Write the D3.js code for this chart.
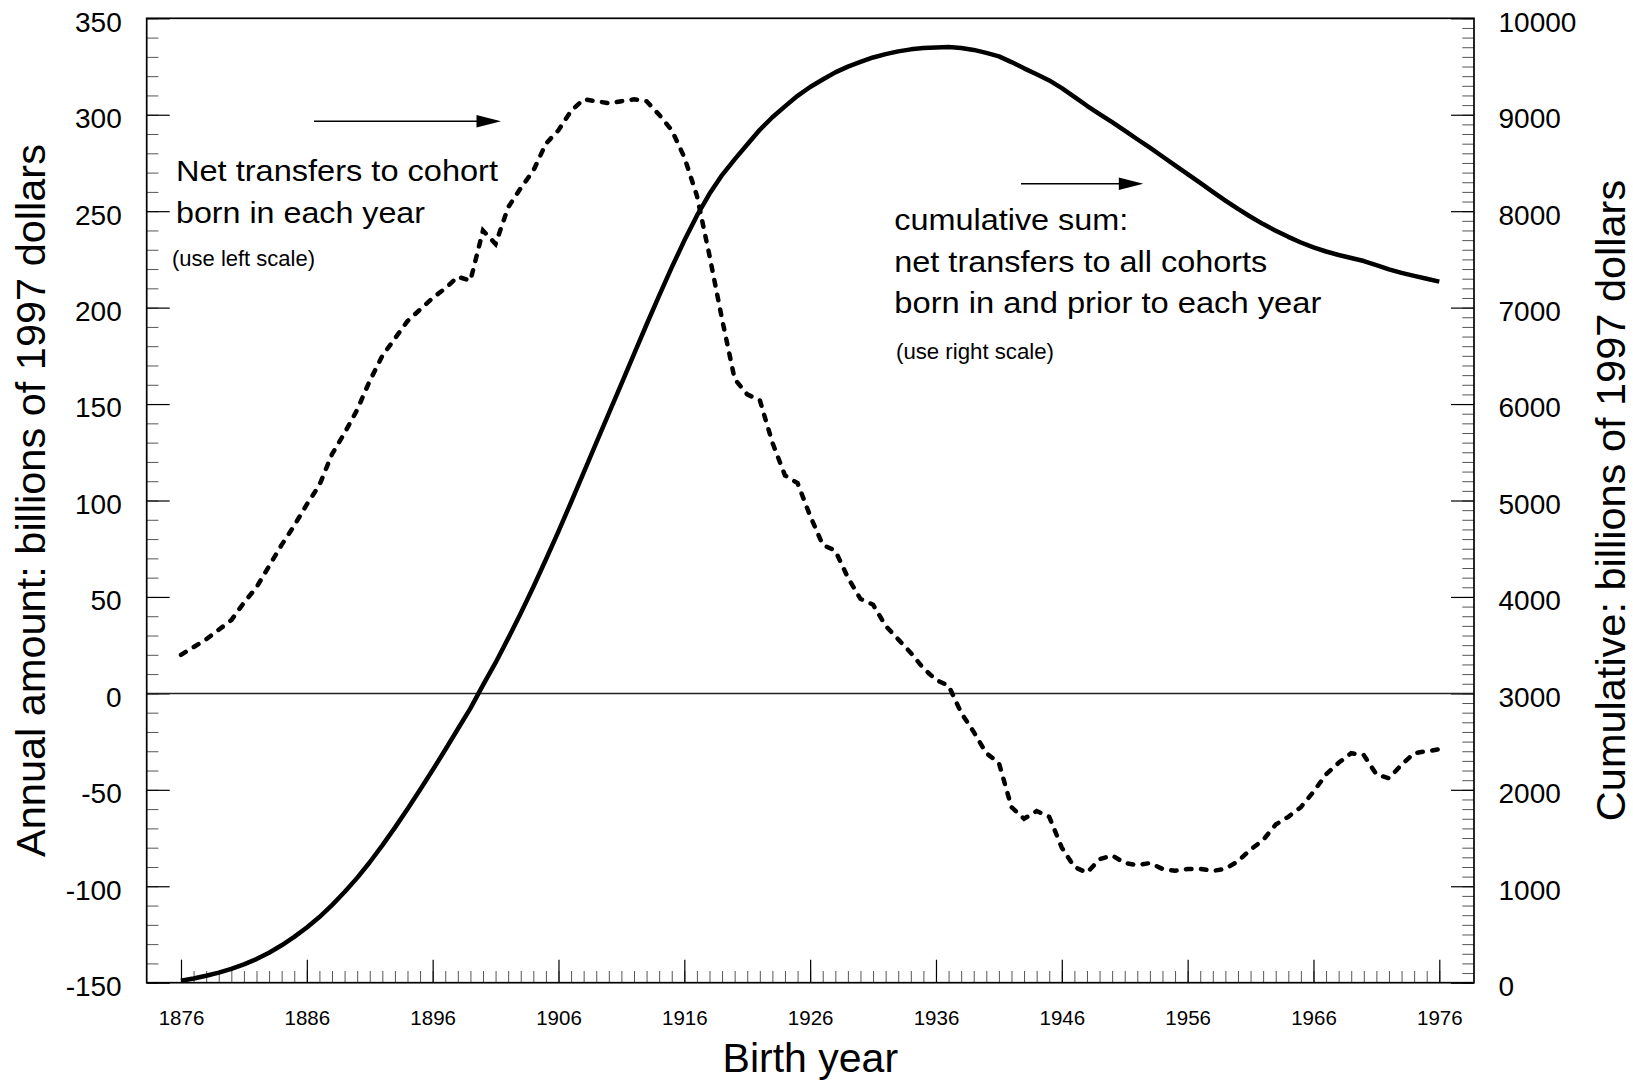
<!DOCTYPE html>
<html lang="en">
<head>
<meta charset="UTF-8">
<title>Net transfers by birth year</title>
<script src="https://cdnjs.cloudflare.com/ajax/libs/d3/7.8.4/d3.min.js"></script>
<style>
  body { margin: 0; background: #fff; }
  svg { display: block; font-family: "Liberation Sans", Arial, Helvetica, sans-serif; }
</style>
</head>
<body>
<div class="visHolder"></div>
<script>
  // one value per birth year, 1876 .. 1976
  const years = d3.range(1876, 1977);

  // annual net transfers to each cohort (left scale, billions of 1997 dollars)
  const annual = [
    20, 24, 28, 33, 38, 47, 55, 66, 77, 87,
    98, 108, 124, 135, 147, 162, 175, 184, 193, 199,
    205, 210, 216, 214, 240, 233, 252, 262, 271, 285,
    292, 302, 308, 307, 306, 307, 308, 307, 300, 292,
    278, 258, 227, 194, 163, 155, 152, 130, 113, 109,
    92, 77, 74, 60, 49, 46, 35, 28, 21, 13,
    7, 4, -10, -20, -31, -36, -59, -65, -61, -64,
    -80, -90, -93, -86, -84, -88, -89, -88, -91, -92,
    -91, -91, -92, -91, -87, -81, -76, -68, -64, -59,
    -51, -42, -36, -31, -32, -42, -44, -37, -31, -30,
    -29
  ];

  // cumulative transfers, all cohorts born in and before the year (right scale)
  const cumulative = [
    20, 44, 72, 105, 143, 190, 245, 311, 388, 475,
    573, 681, 805, 940, 1087, 1249, 1424, 1608, 1801, 2000,
    2205, 2415, 2631, 2845, 3085, 3318, 3570, 3832, 4103, 4388,
    4680, 4982, 5290, 5597, 5903, 6210, 6518, 6825, 7125, 7417,
    7695, 7953, 8180, 8374, 8537, 8692, 8844, 8974, 9087, 9196,
    9288, 9365, 9439, 9499, 9548, 9594, 9629, 9657, 9678, 9691,
    9698, 9702, 9692, 9672, 9641, 9605, 9546, 9481, 9420, 9356,
    9276, 9186, 9093, 9007, 8923, 8835, 8746, 8658, 8567, 8475,
    8384, 8293, 8201, 8110, 8023, 7942, 7866, 7798, 7734, 7675,
    7624, 7582, 7546, 7515, 7483, 7441, 7397, 7360, 7329, 7299,
    7270
  ];

  const xTicks = [1876, 1886, 1896, 1906, 1916, 1926, 1936, 1946, 1956, 1966, 1976];
  const leftTicks = [-150, -100, -50, 0, 50, 100, 150, 200, 250, 300, 350];
  const rightTicks = [0, 1000, 2000, 3000, 4000, 5000, 6000, 7000, 8000, 9000, 10000];
  const leftMinor = d3.range(-150, 351, 10);
  const rightMinor = d3.range(0, 10001, 100);

  const w = 1633;
  const h = 1081;
  const pLeft = 146.7, pRight = 1474, pTop = 18.3, pBottom = 982.7;

  const xScale = d3.scaleLinear().domain([1876, 1976]).range([181, 1439.3]);
  const yLeft = d3.scaleLinear().domain([-150, 350]).range([pBottom, pTop]);
  const yRight = d3.scaleLinear().domain([0, 10000]).range([pBottom, pTop]);

  // plain labels: hyphen minus, no thousands separator
  const plain = d => String(d);

  const svg = d3.select(".visHolder")
    .append("svg")
    .attr("width", w)
    .attr("height", h);

  // minor ticks first, then major ticks with labels
  const addAxis = (axis, tx, ty, size, cls) => {
    const g = svg.append("g")
      .attr("transform", "translate(" + tx + "," + ty + ")")
      .call(axis);
    g.attr("font-family", null).attr("font-size", size);
    g.select(".domain").remove();
    g.selectAll(".tick line").attr("stroke", cls === "minor" ? "#555" : "#000").attr("stroke-width", cls === "minor" ? 1 : 1.2);
    g.selectAll(".tick text").attr("fill", "#000");
    return g;
  };

  addAxis(d3.axisBottom(xScale).tickValues(years).tickSize(-11.7).tickFormat(""), 0, pBottom, 10, "minor");
  addAxis(d3.axisBottom(xScale).tickValues(xTicks).tickSize(-23).tickPadding(27.7).tickFormat(plain), 0, pBottom, 20.5, "major");

  addAxis(d3.axisLeft(yLeft).tickValues(leftMinor).tickSize(-11.7).tickFormat(""), pLeft, 0, 10, "minor");
  addAxis(d3.axisLeft(yLeft).tickValues(leftTicks).tickSize(-23).tickPadding(25).tickFormat(plain), pLeft, 0, 28, "major")
    .selectAll(".tick text").attr("dy", "0.46em");

  addAxis(d3.axisRight(yRight).tickValues(rightMinor).tickSize(-11.7).tickFormat(""), pRight, 0, 10, "minor");
  addAxis(d3.axisRight(yRight).tickValues(rightTicks).tickSize(-23).tickPadding(24.5).tickFormat(plain), pRight, 0, 28, "major")
    .selectAll(".tick text").attr("dy", "0.46em");

  // zero line of the left scale
  svg.append("line")
    .attr("x1", pLeft).attr("x2", pRight)
    .attr("y1", yLeft(0)).attr("y2", yLeft(0))
    .attr("stroke", "#222")
    .attr("stroke-width", 1.5);

  // frame
  svg.append("rect")
    .attr("x", pLeft).attr("y", pTop)
    .attr("width", pRight - pLeft).attr("height", pBottom - pTop)
    .attr("fill", "none")
    .attr("stroke", "#000")
    .attr("stroke-width", 1.7);

  const annualLine = d3.line()
    .x((d, i) => xScale(years[i]))
    .y(d => yLeft(d));

  const cumLine = d3.line()
    .x((d, i) => xScale(years[i]))
    .y(d => yRight(d));

  svg.append("path")
    .datum(cumulative)
    .attr("d", cumLine)
    .attr("fill", "none")
    .attr("stroke", "#000")
    .attr("stroke-width", 4.5)
    .attr("stroke-linejoin", "round");

  svg.append("path")
    .datum(annual)
    .attr("d", annualLine)
    .attr("fill", "none")
    .attr("stroke", "#000")
    .attr("stroke-width", 4.5)
    .attr("stroke-linecap", "round")
    .attr("stroke-dasharray", "5.5 9.5");

  // arrows
  const arrow = (x1, x2, y) => {
    svg.append("line")
      .attr("x1", x1).attr("x2", x2 - 20)
      .attr("y1", y).attr("y2", y)
      .attr("stroke", "#000")
      .attr("stroke-width", 1.6);
    svg.append("polygon")
      .attr("points", (x2 - 24.5) + "," + (y - 6.3) + " " + x2 + "," + y + " " + (x2 - 24.5) + "," + (y + 6.3))
      .attr("fill", "#000");
  };
  arrow(314, 501, 121.3);
  arrow(1021, 1143.3, 183.7);

  // annotation text
  const note = (txt, x, y, size, len) => {
    svg.append("text")
      .attr("x", x).attr("y", y)
      .attr("font-size", size)
      .attr("textLength", len)
      .attr("lengthAdjust", "spacingAndGlyphs")
      .text(txt);
  };
  note("Net transfers to cohort", 176, 181, 29, 322);
  note("born in each year", 176, 223, 29, 249);
  note("(use left scale)", 172, 266, 21.5, 143);
  note("cumulative sum:", 894.3, 230, 29, 234);
  note("net transfers to all cohorts", 894.3, 271.7, 29, 373);
  note("born in and prior to each year", 894.3, 313.3, 29, 427);
  note("(use right scale)", 896, 359, 21.5, 158);

  // axis titles
  svg.append("text")
    .attr("x", (pLeft + pRight) / 2)
    .attr("y", 1072)
    .attr("text-anchor", "middle")
    .attr("font-size", 41)
    .text("Birth year");

  svg.append("text")
    .attr("transform", "translate(45," + (pTop + pBottom) / 2 + ") rotate(-90)")
    .attr("text-anchor", "middle")
    .attr("font-size", 41.5)
    .text("Annual amount: billions of 1997 dollars");

  svg.append("text")
    .attr("transform", "translate(1625," + (pTop + pBottom) / 2 + ") rotate(-90)")
    .attr("text-anchor", "middle")
    .attr("font-size", 41.5)
    .text("Cumulative: billions of 1997 dollars");
</script>
</body>
</html>
